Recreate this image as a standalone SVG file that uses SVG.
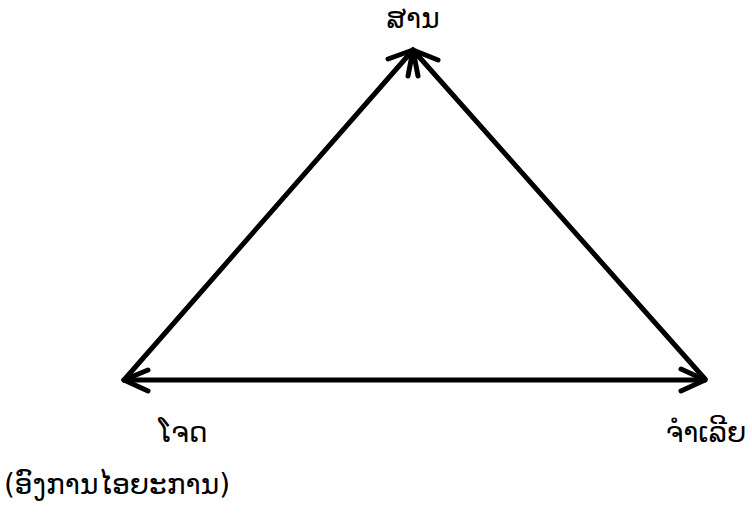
<svg xmlns="http://www.w3.org/2000/svg" width="752" height="527" viewBox="0 0 752 527">
<style>
.e{stroke:#000;stroke-width:5;fill:none;stroke-linecap:round}
.h{stroke:#000;stroke-width:5;fill:none;stroke-linecap:round;stroke-linejoin:round}
text{font-family:"DejaVu Sans","Noto Sans",sans-serif;font-size:28px;fill:#000}
</style>
<rect width="752" height="527" fill="#fff"/>
<g id="connectors">
<line class="e" x1="124" y1="380" x2="413" y2="50"/>
<line class="e" x1="705" y1="379" x2="413" y2="50"/>
<line class="e" x1="124" y1="380" x2="705" y2="380"/>
<path class="h" d="M388,59 L413,50 L408,76"/>
<path class="h" d="M418,76 L413,50 L438,60"/>
<path class="h" d="M148,370 L124,380 L148,391"/>
<path class="h" d="M681,369 L705,380 L681,391"/>
</g>
<g id="n-top"><text x="413" y="28" text-anchor="middle">ສານ</text></g>
<g id="n-left"><text x="183" y="442" text-anchor="middle">ໂຈດ</text></g>
<g id="n-right"><text x="706" y="442" text-anchor="middle">ຈຳເລີຍ</text></g>
<g id="n-sub"><text x="117" y="494" text-anchor="middle">(ອົງການໄອຍະການ)</text></g>
</svg>
